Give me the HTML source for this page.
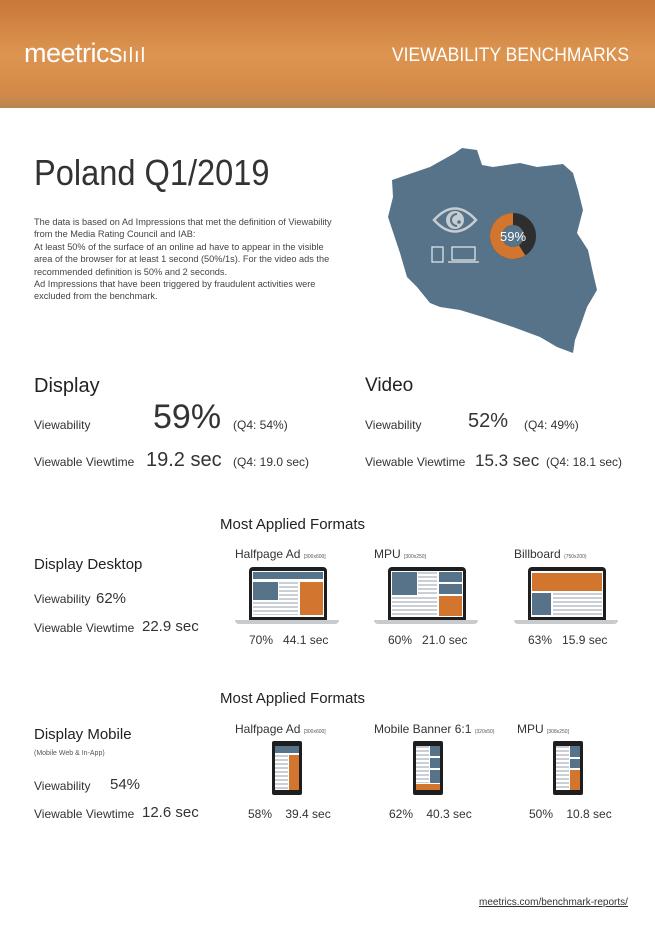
<!DOCTYPE html>
<html><head><meta charset="utf-8">
<style>
*{margin:0;padding:0;box-sizing:border-box}
body{width:655px;height:926px;position:relative;background:#fff;font-family:"Liberation Sans",sans-serif;color:#333;overflow:hidden}
.a{position:absolute;white-space:nowrap}
#header{position:absolute;left:0;top:0;width:655px;height:108px;background:linear-gradient(180deg,#c9773a 0%,#dc9550 50%,#d38a48 85%,#b9864f 100%)}
.para{font-size:9.2px;line-height:12.4px;color:#444;white-space:normal;width:305px}
.h2{font-size:20px;color:#222}
.lbl{font-size:12px;color:#333}
.sm{font-size:5px;color:#555}
.ln{background:repeating-linear-gradient(#c9cfd5 0 2px,#fff 2px 4px)}
.s{position:absolute}
</style></head><body>
<div id="header">
 <div class="a" style="left:24px;top:38px;font-size:27px;color:#fff;letter-spacing:-0.5px">meetrics<span style="font-size:20px;letter-spacing:1px">ılıl</span></div>
 <div class="a" style="left:392px;top:45px;font-size:19px;color:#fff;transform:scaleX(0.92);transform-origin:left">VIEWABILITY BENCHMARKS</div>
</div>

<div class="a" style="left:34px;top:152px;font-size:36px;color:#333;transform:scaleX(0.905);transform-origin:left">Poland Q1/2019</div>
<div class="a para" style="left:34px;top:216px">The data is based on Ad Impressions that met the definition of Viewability from the Media Rating Council and IAB:<br>At least 50% of the surface of an online ad have to appear in the visible area of the browser for at least 1 second (50%/1s). For the video ads the recommended definition is 50% and 2 seconds.<br>Ad Impressions that have been triggered by fraudulent activities were excluded from the benchmark.</div>

<svg class="a" style="left:0;top:0" width="655" height="926">
 <polygon fill="#567389" points="392,180 430,167 455,153 462,148 477,150 482,165 493,167 520,163 537,167 563,164 573,173 578,190 583,210 577,233 588,250 593,273 597,290 587,307 580,327 575,340 573,353 557,347 540,337 513,327 483,317 460,310 440,307 430,303 417,287 407,277 400,253 388,217 393,197"/>
 <g>
  <path d="M434,220 Q455,197 476,220 Q455,243 434,220Z" fill="none" stroke="#c7ccd1" stroke-width="2.5"/>
  <circle cx="455" cy="220" r="9" fill="#c7ccd1"/>
  <path d="M457,214 A6,6 0 1,0 457,226" fill="none" stroke="#567389" stroke-width="2"/>
  <circle cx="459" cy="222" r="1.8" fill="#567389"/>
 </g>
 <g fill="none" stroke="#e8ecef" stroke-width="1.2">
  <rect x="432" y="247" width="11" height="15"/>
  <rect x="452" y="247" width="23" height="13"/>
  <line x1="448" y1="262" x2="479" y2="262"/>
 </g>
 <g id="donut"></g>
</svg>

<div class="a h2" style="left:34px;top:375px">Display</div>
<div class="a lbl" style="left:34px;top:418px">Viewability</div>
<div class="a" style="left:153px;top:398px;font-size:34px">59%</div>
<div class="a lbl" style="left:233px;top:418px">(Q4: 54%)</div>
<div class="a lbl" style="left:34px;top:455px">Viewable Viewtime</div>
<div class="a" style="left:146px;top:449px;font-size:20px">19.2 sec</div>
<div class="a lbl" style="left:233px;top:455px">(Q4: 19.0 sec)</div>

<div class="a" style="left:365px;top:375px;font-size:19px;color:#222">Video</div>
<div class="a lbl" style="left:365px;top:418px">Viewability</div>
<div class="a" style="left:468px;top:410px;font-size:20px">52%</div>
<div class="a lbl" style="left:524px;top:418px">(Q4: 49%)</div>
<div class="a lbl" style="left:365px;top:455px">Viewable Viewtime</div>
<div class="a" style="left:475px;top:451px;font-size:17px">15.3 sec</div>
<div class="a lbl" style="left:546px;top:455px">(Q4: 18.1 sec)</div>

<div class="a" style="left:220px;top:516px;font-size:15px;color:#222">Most Applied Formats</div>
<div class="a" style="left:34px;top:556px;font-size:15px;color:#222">Display Desktop</div>
<div class="a lbl" style="left:34px;top:592px">Viewability</div>
<div class="a" style="left:96px;top:590px;font-size:15px">62%</div>
<div class="a lbl" style="left:34px;top:621px">Viewable Viewtime</div>
<div class="a" style="left:142px;top:618px;font-size:15px">22.9 sec</div>

<div class="a" style="left:220px;top:690px;font-size:15px;color:#222">Most Applied Formats</div>
<div class="a" style="left:34px;top:726px;font-size:15px;color:#222">Display Mobile</div>
<div class="a" style="left:34px;top:750px;font-size:7px;color:#555">(Mobile Web &amp; In-App)</div>
<div class="a lbl" style="left:34px;top:779px">Viewability</div>
<div class="a" style="left:110px;top:776px;font-size:15px">54%</div>
<div class="a lbl" style="left:34px;top:807px">Viewable Viewtime</div>
<div class="a" style="left:142px;top:804px;font-size:15px">12.6 sec</div>

<div class="a" style="left:479px;top:897px;font-size:10px;text-decoration:underline;color:#333">meetrics.com/benchmark-reports/</div>

<div id="formats"></div>

<script>
const donutValue = [59];
const desktopNames = ["Halfpage Ad","MPU","Billboard"];
const desktopSizes = ["[300x600]","[300x250]","(750x200)"];
const desktopViewability = [70,60,63];
const desktopViewtime = [44.1,21.0,15.9];
const mobileNames = ["Halfpage Ad","Mobile Banner 6:1","MPU"];
const mobileSizes = ["[300x600]","(320x50)","[308x250]"];
const mobileViewability = [58,62,50];
const mobileViewtime = [39.4,40.3,10.8];

const NS="http://www.w3.org/2000/svg";
(function(){
 const g=document.getElementById('donut');
 const cx=513,cy=236,r=17,v=donutValue[0]/100;
 const bg=document.createElementNS(NS,'circle');
 bg.setAttribute('cx',cx);bg.setAttribute('cy',cy);bg.setAttribute('r',r);
 bg.setAttribute('fill','none');bg.setAttribute('stroke','#2e2e2e');bg.setAttribute('stroke-width',12);
 
 
 g.appendChild(bg);
 const a0=-Math.PI/2, a1=a0-v*2*Math.PI;
 const p=document.createElementNS(NS,'path');
 const large=v>0.5?1:0;
 p.setAttribute('d',`M${cx+r*Math.cos(a0)},${cy+r*Math.sin(a0)} A${r},${r} 0 ${large},0 ${cx+r*Math.cos(a1)},${cy+r*Math.sin(a1)}`);
 p.setAttribute('fill','none');p.setAttribute('stroke','#d2762f');p.setAttribute('stroke-width',12);
 
 
 g.appendChild(p);
 const t=document.createElementNS(NS,'text');
 t.setAttribute('x',cx);t.setAttribute('y',cy+5);t.setAttribute('text-anchor','middle');
 t.setAttribute('font-size',13);t.setAttribute('fill','#fff');t.setAttribute('font-family','Liberation Sans, sans-serif');
 t.textContent=donutValue[0]+'%';
 
 
 g.appendChild(t);
})();

const root=document.getElementById('formats');
function div(style,html){const d=document.createElement('div');d.className='a';d.style.cssText=style;if(html!=null)d.innerHTML=html;root.appendChild(d);return d;}
const B='#567389',O='#d2762f';
function box(l,t,w,h,c){return `<div class="s${c?'':' ln'}" style="left:${l}%;top:${t}%;width:${w}%;height:${h}%;${c?'background:'+c:''}"></div>`;}
const laptopX=[249,388,528];
const laptopScreens=[
 box(2,3,96,15,B)+box(2,24,34,40,B)+box(38,24,26,72)+box(2,68,62,28)+box(66,24,32,72,O),
 box(2,3,34,50,B)+box(38,3,26,50)+box(2,57,62,40)+box(66,3,32,22,B)+box(66,29,32,22,B)+box(66,55,32,42,O),
 box(2,4,96,40,O)+box(2,48,26,48,B)+box(30,48,68,48)
];
desktopNames.forEach((n,i)=>{
 const x=laptopX[i];
 const t=div(`left:${x-14}px;top:547px;font-size:12px;color:#333`,`${n} <span class="sm">${desktopSizes[i]}</span>`);
 
 
 const lap=div(`left:${x}px;top:567px;width:78px;height:53px;background:#1e1e1e;border-radius:4px 4px 0 0;padding:4px 3px 3px`,`<div style="position:relative;width:72px;height:46px;background:#fff">${laptopScreens[i]}</div>`);
 
 
 const base=div(`left:${x-14}px;top:620px;width:104px;height:4px;background:#c8cbce;border-radius:0 0 6px 6px`);
 
 
 const v=div(`left:${x}px;top:633px;font-size:12px;color:#333`,`${desktopViewability[i]}%&nbsp;&nbsp;&nbsp;${desktopViewtime[i].toFixed(1)} sec`);
 
 
});
const phoneX=[272,413,553];
const phoneScreens=[
 box(0,0,100,16,B)+box(0,20,54,80)+box(58,20,42,80,O),
 box(0,0,54,84)+box(58,0,42,23,B)+box(58,27,42,23,B)+box(58,54,42,30,B)+box(0,86,100,14,O),
 box(0,0,54,100)+box(58,0,42,25,B)+box(58,29,42,21,B)+box(58,54,42,46,O)
];
const mTitleX=[235,374,517];
mobileNames.forEach((n,i)=>{
 const x=phoneX[i];
 const t=div(`left:${mTitleX[i]}px;top:722px;font-size:12px;color:#333`,`${n} <span class="sm">${mobileSizes[i]}</span>`);
 
 
 const ph=div(`left:${x}px;top:741px;width:30px;height:54px;background:#1e1e1e;border-radius:2px;padding:5px 3px`,`<div style="position:relative;width:24px;height:44px;background:#fff">${phoneScreens[i]}</div>`);
 
 
 const v=div(`left:${x-24}px;top:807px;font-size:12px;color:#333`,`${mobileViewability[i]}%&nbsp;&nbsp;&nbsp;&nbsp;${mobileViewtime[i].toFixed(1)} sec`);
 
 
});
</script>
</body></html>
